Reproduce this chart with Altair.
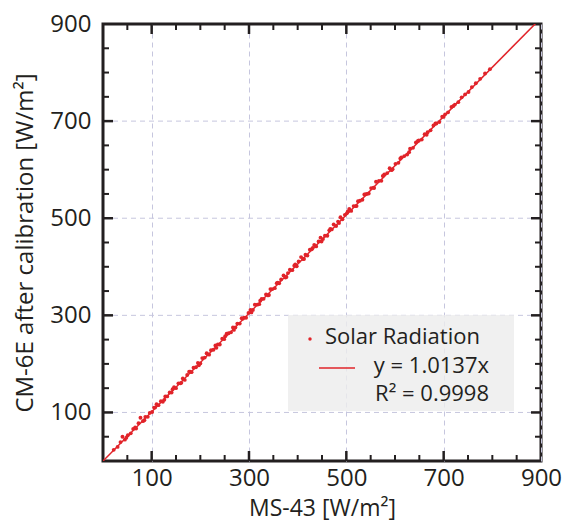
import altair as alt
import pandas as pd

# ---- data ----
ms43 = [22, 30, 36, 40, 45, 51, 57, 62, 68, 73, 77, 82, 87, 92, 96, 101, 105, 110, 114, 119,
        123, 128, 132, 137, 141, 146, 150, 155, 159, 164, 168, 173, 177, 182, 186, 191, 195, 200,
        204, 209, 213, 218, 222, 227, 231, 236, 240, 245, 249, 254, 258, 263, 267, 272, 276, 281,
        285, 290, 294, 299, 303, 308, 312, 317, 321, 326, 330, 335, 339, 344, 348, 353, 357, 362,
        366, 371, 375, 380, 384, 389, 393, 398, 402, 407, 411, 416, 420, 425, 429, 434, 438, 443,
        447, 452, 456, 461, 465, 470, 474, 479, 483, 488, 492, 497, 501, 506, 510, 515, 519, 524,
        528, 533, 537, 542, 546, 551, 556, 561, 567, 572, 578, 584, 589, 595, 601, 607, 613, 619,
        625, 631, 637, 643, 649, 655, 661, 667, 673, 679, 685, 691, 697, 703, 709, 716, 723, 730,
        737, 744, 751, 758, 766, 775, 785, 795,
        48, 66, 85, 107, 126, 143, 161, 179, 197, 215, 233, 251, 269, 287, 305, 323, 341, 359,
        377, 395, 413, 431, 449, 467, 485, 503, 521, 539, 557, 575, 593, 611, 629, 647, 665, 683,
        700, 720]
cm6e = [23, 29, 39, 50, 44, 53, 57, 66, 67, 78, 89, 82, 91, 91, 99, 101, 110, 117, 115, 123,
        122, 133, 133, 141, 141, 152, 150, 160, 160, 170, 167, 177, 184, 183, 192, 193, 202, 201,
        212, 213, 222, 219, 228, 229, 238, 240, 240, 252, 251, 262, 263, 265, 275, 275, 283, 283,
        294, 295, 295, 305, 311, 311, 322, 322, 323, 334, 334, 343, 341, 354, 354, 356, 366, 366,
        374, 382, 378, 387, 394, 393, 402, 401, 411, 420, 416, 425, 423, 435, 436, 445, 442, 452,
        460, 457, 464, 464, 475, 477, 487, 484, 493, 502, 498, 507, 510, 519, 515, 525, 525, 535,
        536, 538, 549, 550, 551, 562, 563, 575, 577, 577, 590, 593, 603, 601, 612, 614, 625, 628,
        631, 643, 645, 656, 660, 662, 673, 677, 681, 691, 695, 698, 709, 714, 718, 729, 734, 739,
        749, 755, 760, 770, 778, 787, 798, 807,
        48, 69, 84, 110, 126, 148, 161, 184, 197, 220, 233, 257, 270, 293, 306, 330, 342, 367,
        379, 405, 416, 439, 452, 478, 490, 514, 525, 549, 562, 587, 599, 623, 636, 659, 672, 695,
        709, 731]
fit_x = [0, 900]
slope = 1.0137
tick_labels = [100, 300, 500, 700, 900]
grid_vals = [100, 300, 500, 700]
minor_ticks = [50, 150, 200, 250, 350, 400, 450, 550, 600, 650, 750, 800, 850]
major_ticks = [100, 300, 500, 700]

RED = "#e1242a"
INK = "#231f20"
FONT = "Open Sans"
FS = 24
W, H = 438, 437

pts = pd.DataFrame({"x": ms43, "y": cm6e})
fit = pd.DataFrame({"x": fit_x})

xs = alt.Scale(domain=[0, 900], nice=False, zero=False)
ys = alt.Scale(domain=[0, 900], nice=False, zero=False)

xaxis = alt.Axis(values=tick_labels, title="MS-43 [W/m²]", ticks=False, domain=False,
                 labelFontSize=FS, titleFontSize=23, labelFont=FONT, titleFont=FONT,
                 labelColor=INK, titleColor=INK, labelPadding=5, titlePadding=7,
                 titleFontWeight="normal",
                 grid=True, gridColor="#c6c6de", gridDash=[5, 4], gridWidth=1,
                 labelFlush=False)
yaxis = alt.Axis(values=tick_labels, title="CM-6E after calibration [W/m²]", ticks=False,
                 domain=False, labelFontSize=FS, titleFontSize=FS, labelFont=FONT,
                 titleFont=FONT, labelColor=INK, titleColor=INK, labelPadding=12,
                 titleFontWeight="normal",
                 titlePadding=12, grid=False, labelFlush=False)

gridy = alt.Chart(pd.DataFrame({"v": grid_vals})).mark_rule(
    color="#c6c6de", strokeDash=[5, 4], strokeWidth=1
).encode(y=alt.Y("v:Q", scale=ys, axis=yaxis))

box = alt.Chart(pd.DataFrame({"a": [0]})).mark_rect(color="#ececec", opacity=0.8).encode(
    x=alt.value(185), x2=alt.value(411), y=alt.value(291), y2=alt.value(387))

points = alt.Chart(pts).mark_circle(size=15, color=RED, opacity=1).encode(
    x=alt.X("x:Q", scale=xs, axis=xaxis),
    y=alt.Y("y:Q", scale=ys, axis=yaxis),
)

line = alt.Chart(fit).transform_calculate(y=f"datum.x * {slope}").mark_line(
    color=RED, strokeWidth=1.5, clip=True
).encode(x=alt.X("x:Q", scale=xs), y=alt.Y("y:Q", scale=ys))

def tick_layer(vals, length, width, side):
    d = pd.DataFrame({"v": vals})
    m = alt.Chart(d).mark_rule(color=INK, strokeWidth=width)
    if side == "bottom":
        return m.encode(x=alt.X("v:Q", scale=xs), y=alt.value(H), y2=alt.value(H - length))
    if side == "top":
        return m.encode(x=alt.X("v:Q", scale=xs), y=alt.value(0), y2=alt.value(length))
    if side == "left":
        return m.encode(y=alt.Y("v:Q", scale=ys), x=alt.value(0), x2=alt.value(length))
    return m.encode(y=alt.Y("v:Q", scale=ys), x=alt.value(W), x2=alt.value(W - length))

ticks = []
for s in ["bottom", "top", "left", "right"]:
    ticks.append(tick_layer(major_ticks, 10, 2.5, s))
    ticks.append(tick_layer(minor_ticks, 6, 2, s))

leg_dot = alt.Chart(pd.DataFrame({"a": [0]})).mark_circle(size=12, color=RED, opacity=1).encode(
    x=alt.value(207), y=alt.value(315))
leg_line = alt.Chart(pd.DataFrame({"a": [0]})).mark_rule(color=RED, strokeWidth=1.5).encode(
    x=alt.value(216), x2=alt.value(252), y=alt.value(344))

def leg_text(t, x, y, align):
    return alt.Chart(pd.DataFrame({"t": [t]})).mark_text(
        font=FONT, fontSize=22, color=INK, align=align, baseline="middle"
    ).encode(x=alt.value(x), y=alt.value(y), text="t:N")

texts = [leg_text("Solar Radiation", 222, 313, "left"),
         leg_text("y = 1.0137x", 386, 342, "right"),
         leg_text("R² = 0.9998", 386, 370, "right")]

chart = alt.layer(gridy, box, points, line, *ticks, leg_dot, leg_line, *texts).properties(
    width=W, height=H,
    autosize=alt.AutoSizeParams(type="none"),
    padding={"left": 103, "top": 24, "right": 21, "bottom": 61},
).configure_view(stroke=INK, strokeWidth=3).configure_axis(labelFont=FONT, titleFont=FONT)

chart.save("out.html", embed_options={"renderer": "svg", "actions": False})
